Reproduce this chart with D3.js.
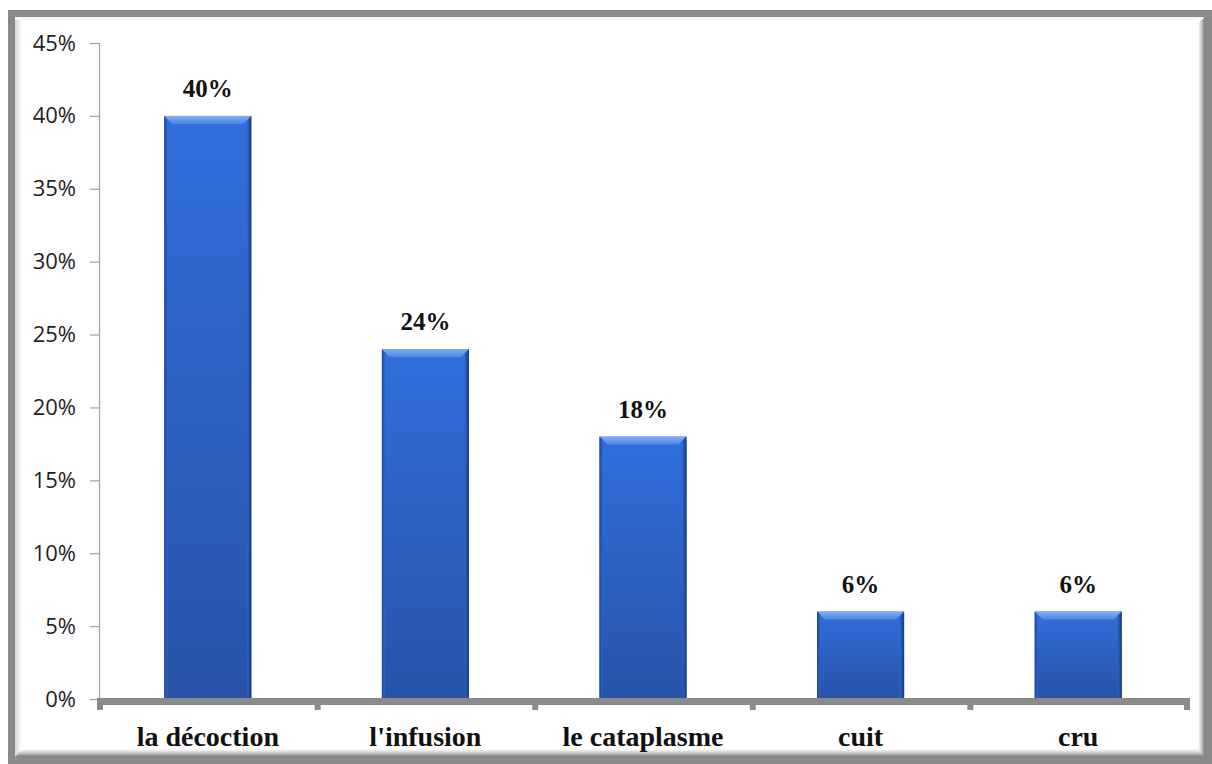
<!DOCTYPE html>
<html>
<head>
<meta charset="utf-8">
<script src="https://cdn.jsdelivr.net/npm/d3@7"></script>
<style>
  html, body { margin: 0; padding: 0; background: #fff; }
  svg { display: block; }
</style>
</head>
<body>
<svg id="chart" width="1212" height="764"></svg>
<script>
// Modes de préparation et leur part (%)
const categories = ["la décoction", "l'infusion", "le cataplasme", "cuit", "cru"];
const values = [40, 24, 18, 6, 6];
const yTicks = [0, 5, 10, 15, 20, 25, 30, 35, 40, 45];

const svg = d3.select("#chart");
const W = 1212, H = 764;

// ---- frame with shaded border ----
const defs = svg.append("defs");
function lin(id, x1, y1, x2, y2, stops) {
  const g = defs.append("linearGradient").attr("id", id)
    .attr("x1", x1).attr("y1", y1).attr("x2", x2).attr("y2", y2);
  stops.forEach(s => g.append("stop").attr("offset", s[0]).attr("stop-color", s[1]));
}
lin("shadeL", 0, 0, 1, 0, [[0, "#d6d6d6"], [1, "#ffffff"]]);
lin("shadeR", 0, 0, 1, 0, [[0, "#ffffff"], [0.5, "#c8c8c8"], [1, "#7a7a7a"]]);
lin("shadeB", 0, 0, 0, 1, [[0, "#ffffff"], [0.5, "#c8c8c8"], [1, "#7a7a7a"]]);
lin("shadeT", 0, 0, 0, 1, [[0, "#eeeeee"], [1, "#ffffff"]]);
lin("barBody", 0, 0, 0, 1, [[0, "#306fdc"], [1, "#2853a8"]]);
lin("barTop", 0, 0, 0, 1, [[0, "#84aff4"], [1, "#4a85e6"]]);
lin("barLeft", 0, 0, 1, 0, [[0, "#1e4796"], [1, "#2d63c8"]]);
lin("barRight", 0, 0, 1, 0, [[0, "#2d63c8"], [1, "#173a80"]]);

svg.append("rect").attr("x", 8).attr("y", 10).attr("width", W - 8).attr("height", H - 10)
  .attr("fill", "#8a8a8a");
svg.append("rect").attr("x", 15).attr("y", 17).attr("width", 1189).attr("height", 740)
  .attr("fill", "#ffffff");
svg.append("rect").attr("x", 15).attr("y", 17).attr("width", 7).attr("height", 740)
  .attr("fill", "url(#shadeL)");
svg.append("rect").attr("x", 15).attr("y", 17).attr("width", 1189).attr("height", 3)
  .attr("fill", "url(#shadeT)");
svg.append("polygon")
  .attr("points", "1198,23 1205,17 1205,757 1198,757")
  .attr("fill", "url(#shadeR)");
svg.append("polygon")
  .attr("points", "22,749 1198,749 1205,757 15,757")
  .attr("fill", "url(#shadeB)");

// ---- scales ----
const x = d3.scaleBand().domain(categories).range([99, 1187]).paddingInner(0).paddingOuter(0);
const y = d3.scaleLinear().domain([0, 45]).range([699, 43]);
const barW = x.bandwidth() * 0.4;

// ---- y axis ----
const yAxis = d3.axisLeft(y).tickValues(yTicks).tickSize(9).tickPadding(14)
  .tickFormat(d => d + "%");
const gy = svg.append("g").attr("transform", "translate(99,0)").call(yAxis);
gy.select(".domain").attr("stroke", "#a0a0a0").attr("stroke-width", 1.2);
gy.selectAll(".tick line").attr("stroke", "#a0a0a0").attr("stroke-width", 1.2);
gy.selectAll(".tick text")
  .attr("font-family", "'Open Sans', 'Liberation Sans', Arial, sans-serif")
  .attr("font-size", 22).attr("fill", "#1e1e1e");

// ---- bars ----
const bars = svg.append("g").selectAll("g").data(values).join("g")
  .attr("transform", (d, i) => `translate(${x(categories[i]) + (x.bandwidth() - barW) / 2},0)`);
bars.append("rect")
  .attr("x", 0).attr("y", d => y(d)).attr("width", barW).attr("height", d => y(0) - y(d))
  .attr("fill", "url(#barBody)");
const bev = 8;
// top bevel
bars.append("polygon")
  .attr("points", d => `0,${y(d)} ${barW},${y(d)} ${barW - bev},${y(d) + bev} ${bev},${y(d) + bev}`)
  .attr("fill", "url(#barTop)");
// left bevel
bars.append("polygon")
  .attr("points", d => `0,${y(d)} 3,${y(d) + 3} 3,${y(0)} 0,${y(0)}`)
  .attr("fill", "url(#barLeft)");
// right bevel
bars.append("polygon")
  .attr("points", d => `${barW},${y(d)} ${barW - 4},${y(d) + 4} ${barW - 4},${y(0)} ${barW},${y(0)}`)
  .attr("fill", "url(#barRight)");
// value labels
bars.append("text")
  .attr("x", barW / 2).attr("y", d => y(d) - 19)
  .attr("text-anchor", "middle")
  .attr("font-family", "'Liberation Serif', 'Times New Roman', serif")
  .attr("font-weight", "bold").attr("font-size", 25).attr("fill", "#111")
  .text(d => d + "%");

// ---- x axis ----
const gx = svg.append("g");
gx.append("rect").attr("x", 97).attr("y", 698).attr("width", 1190 - 97).attr("height", 7)
  .attr("fill", "#8a8a8a");
const bounds = categories.map(c => x(c)).concat([x.range()[1]]);
gx.selectAll("rect.tk").data(bounds).join("rect").attr("class", "tk")
  .attr("x", (d, i) => i === bounds.length - 1 ? d - 3 : d - 2)
  .attr("y", 700).attr("width", 6).attr("height", 10).attr("fill", "#8a8a8a");
gx.selectAll("text").data(categories).join("text")
  .attr("x", d => x(d) + x.bandwidth() / 2).attr("y", 746)
  .attr("text-anchor", "middle")
  .attr("font-family", "'Liberation Serif', 'Times New Roman', serif")
  .attr("font-weight", "bold").attr("font-size", 28).attr("fill", "#111")
  .text(d => d);
</script>
</body>
</html>
